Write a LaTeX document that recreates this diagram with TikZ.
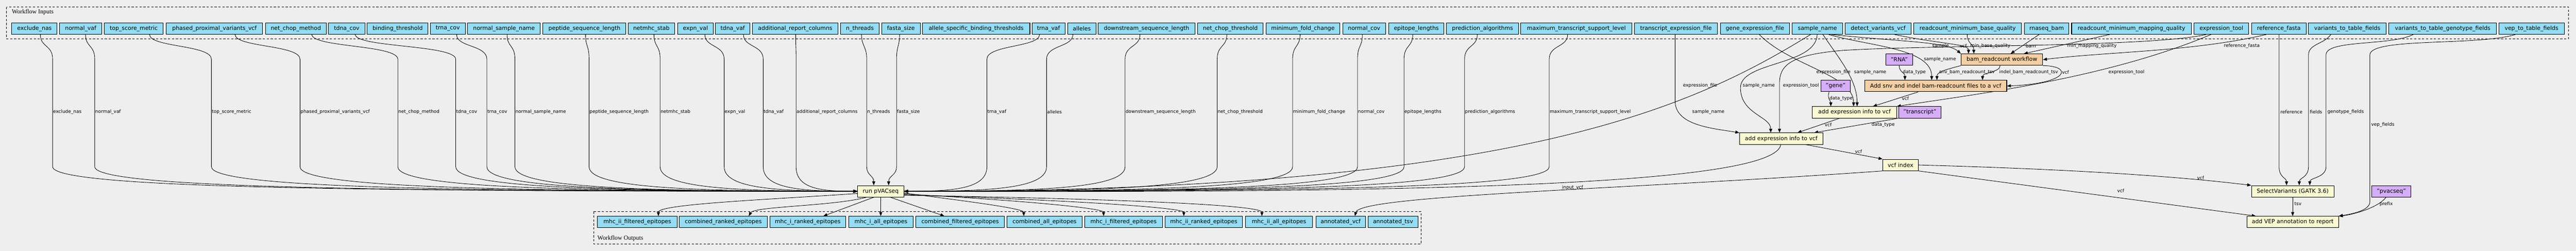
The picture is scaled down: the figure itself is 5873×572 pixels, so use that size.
\documentclass[tikz,border=0pt]{standalone}
\usepackage{fontspec}
\setmainfont{DejaVu Sans}
\newfontfamily\clusterfont{Liberation Serif}
\usetikzlibrary{arrows.meta,calc}
\definecolor{bgc}{HTML}{EEEEEE}
\definecolor{inblue}{HTML}{94DDF4}
\definecolor{stepyellow}{HTML}{FAFAD2}
\definecolor{steporange}{HTML}{F4CFA3}
\definecolor{constpurple}{HTML}{D5ADFB}
\newcommand\nodefs{\fontsize{12.8}{14}\selectfont}
\newcommand\labfs{\fontsize{10.5}{12}\selectfont}
\pgfdeclarelayer{back}
\pgfdeclarelayer{edges}
\pgfsetlayers{back,edges,main}
\tikzset{
  inbox/.style={draw=black, line width=1.2pt, fill=inblue, minimum height=26pt, inner sep=1pt, font=\nodefs},
  stepnode/.style={draw=black, line width=1.2pt, fill=stepyellow, minimum height=26pt, inner sep=1pt, font=\nodefs},
  orangenode/.style={stepnode, fill=steporange},
  constnode/.style={stepnode, fill=constpurple},
  conn/.style={draw=black, line width=1pt, -{Triangle[length=9pt,width=7pt]}},
  elab/.style={font=\labfs, anchor=west, inner sep=1pt},
  cluster/.style={draw=black, line width=1.1pt, dash pattern=on 5pt off 4pt},
  clab/.style={font=\clusterfont\fontsize{14}{16}\selectfont, anchor=west, inner sep=0pt}
}
\begin{document}
\begin{tikzpicture}[x=1pt,y=-1pt]
\begin{pgfonlayer}{back}
\fill[bgc] (0,0) rectangle (5873,572);
\draw[cluster] (15,16) rectangle (5856,89);
\draw[cluster] (1354,482) rectangle (3240,556);
\end{pgfonlayer}
\useasboundingbox (0,0) rectangle (5873,572);
\node[clab] (inlabel) at (27,28) {Workflow Inputs};
\node[clab] (outlabel) at (1362,543) {Workflow Outputs};

% workflow inputs
\foreach \n/\a/\b/\t in {
 in1/27/130/exclude\_nas, in2/136/232/normal\_vaf, in3/238/372/top\_score\_metric,
 in4/379/599/phased\_proximal\_variants\_vcf, in5/605/744/net\_chop\_method,
 in6/749/832/tdna\_cov, in7/837/976/binding\_threshold, in8/981/1061/trna\_cov,
 in9/1066/1232/normal\_sample\_name, in10/1238/1427/peptide\_sequence\_length,
 in11/1432/1538/netmhc\_stab, in12/1545/1626/expn\_val, in13/1631/1710/tdna\_vaf,
 in14/1716/1910/additional\_report\_columns, in15/1916/2005/n\_threads,
 in16/2010/2098/fasta\_size, in17/2103/2348/allele\_specific\_binding\_thresholds,
 in18/2353/2428/trna\_vaf, in19/2434/2499/alleles, in20/2504/2724/downstream\_sequence\_length,
 in21/2730/2880/net\_chop\_threshold, in22/2886/3055/minimum\_fold\_change,
 in23/3061/3159/normal\_cov, in24/3166/3292/epitope\_lengths,
 in25/3298/3462/prediction\_algorithms, in26/3467/3721/maximum\_transcript\_support\_level,
 in27/3726/3916/transcript\_expression\_file, in28/3922/4080/gene\_expression\_file,
 in29/4086/4201/sample\_name, in30/4207/4357/detect\_variants\_vcf,
 in31/4363/4609/readcount\_minimum\_base\_quality, in32/4615/4717/rnaseq\_bam,
 in33/4723/4996/readcount\_minimum\_mapping\_quality, in34/5002/5127/expression\_tool,
 in35/5133/5258/reference\_fasta, in36/5263/5440/variants\_to\_table\_fields,
 in37/5446/5692/variants\_to\_table\_genotype\_fields, in38/5697/5846/vep\_to\_table\_fields}
 {\node[inbox, minimum width={(\b-\a)*1pt}] (\n) at ({(\a+\b)/2},65) {\t};}

% workflow outputs
\foreach \n/\a/\b/\t in {
 o1/1362/1544/mhc\_ii\_filtered\_epitopes, o2/1549/1749/combined\_ranked\_epitopes,
 o3/1755/1928/mhc\_i\_ranked\_epitopes, o4/1935/2082/mhc\_i\_all\_epitopes,
 o5/2088/2290/combined\_filtered\_epitopes, o6/2296/2467/combined\_all\_epitopes,
 o7/2473/2650/mhc\_i\_filtered\_epitopes, o8/2656/2833/mhc\_ii\_ranked\_epitopes,
 o9/2840/2992/mhc\_ii\_all\_epitopes, o10/3000/3113/annotated\_vcf, o11/3119/3233/annotated\_tsv}
 {\node[inbox, minimum width={(\b-\a)*1pt}] (\n) at ({(\a+\b)/2},506) {\t};}

% steps
\node[stepnode, minimum width=105pt] (run) at (2008,436) {run pVACseq};
\node[orangenode, minimum width=186pt] (bam) at (4564,136) {bam\_readcount workflow};
\node[constnode, minimum width=62pt] (rna) at (4330,136) {"RNA"};
\node[orangenode, minimum width=324pt] (addsnv) at (4413,196) {Add snv and indel bam-readcount files to a vcf};
\node[constnode, minimum width=66pt] (gene) at (4185,196) {"gene"};
\node[stepnode, minimum width=192pt] (ae1) at (4228,256) {add expression info to vcf};
\node[constnode, minimum width=97pt] (transcript) at (4377,256) {"transcript"};
\node[stepnode, minimum width=190pt] (ae2) at (4061,316) {add expression info to vcf};
\node[stepnode, minimum width=81pt] (vcfidx) at (4333,376) {vcf index};
\node[stepnode, minimum width=188pt] (selvar) at (5227,436) {SelectVariants (GATK 3.6)};
\node[constnode, minimum width=89pt] (pvacseq) at (5452,436) {"pvacseq"};
\node[stepnode, minimum width=209pt] (vep) at (5227,506) {add VEP annotation to report};

\begin{pgfonlayer}{edges}
% inputs to run pVACseq, west side
\foreach \n/\sx/\lx/\t in {
 in1/92/120/exclude\_nas, in2/195/216/normal\_vaf, in3/341/482/top\_score\_metric,
 in4/536/684/phased\_proximal\_variants\_vcf, in5/711/907/net\_chop\_method,
 in6/810/1039/tdna\_cov, in8/1041/1110/trna\_cov, in9/1156/1174/normal\_sample\_name,
 in10/1335/1343/peptide\_sequence\_length, in11/1491/1505/netmhc\_stab,
 in12/1607/1651/expn\_val, in13/1695/1740/tdna\_vaf, in14/1814/1815/additional\_report\_columns}
 {\draw[conn] (\n.south -| \sx,0) .. controls (\sx,108) and (\lx,102) .. (\lx,135) -- (\lx,380)
      .. controls (\lx,430) and ({\lx+(1956-\lx)*0.4},436) .. (run.west);
  \node[elab] (lab-\n) at (\lx,255) {\t};}
% inputs to run pVACseq, east side
\foreach \n/\sx/\lx/\t in {
 in18/2370/2250/trna\_vaf, in19/2446/2386/alleles, in20/2599/2565/downstream\_sequence\_length,
 in21/2797/2775/net\_chop\_threshold, in22/2964/2947/minimum\_fold\_change,
 in23/3106/3095/normal\_cov, in24/3221/3201/epitope\_lengths,
 in25/3368/3339/prediction\_algorithms, in26/3574/3532/maximum\_transcript\_support\_level}
 {\draw[conn] (\n.south -| \sx,0) .. controls (\sx,108) and (\lx,102) .. (\lx,135) -- (\lx,380)
      .. controls (\lx,430) and ({\lx-(\lx-2061)*0.4},436) .. (run.east);
  \node[elab] (lab-\n) at (\lx,255) {\t};}
% inputs to run pVACseq, top
\draw[conn] (in15.south -| 1964,0) .. controls (1964,105) and (1976,105) .. (1976,135) -- (1976,380)
   .. controls (1976,400) and (1992,400) .. (run.north -| 1992,0);
\node[elab] (lab-in15) at (1976,255) {n\_threads};
\draw[conn] (in16.south -| 2051,0) .. controls (2051,105) and (2044,105) .. (2044,135) -- (2044,380)
   .. controls (2044,400) and (2026,400) .. (run.north -| 2026,0);
\node[elab] (lab-in16) at (2044,255) {fasta\_size};

% sample_name
\draw[conn] (in29.south -| 4128,0) .. controls (3850,250) and (3450,436) .. (run.east);
\node[elab] (l-sn-run) at (3857,255) {sample\_name};
\draw[conn] (ae2.south -| 4060,0) .. controls (4045,425) and (3200,440) .. (run.east);
\node[elab] (l-invcf) at (3560,428) {input\_vcf};
\draw[conn] (in29.south -| 4143,0) .. controls (4140,150) and (3968,140) .. (3968,200)
   .. controls (3968,260) and (4037,265) .. (ae2.north -| 4037,0);
\node[elab] (l-sn-ae2) at (3972,195) {sample\_name};
\draw[conn] (in29.south -| 4156,0) .. controls (4190,130) and (4234,180) .. (ae1.north -| 4234,0);
\node[elab] (l-sn-ae1) at (4226,165) {sample\_name};
\draw[conn] (in29.south -| 4169,0) .. controls (4260,105) and (4404,110) .. (addsnv.north -| 4404,0);
\node[elab] (l-sn-snv) at (4385,135) {sample\_name};
\draw[conn] (in29.south -| 4175,0) .. controls (4330,95) and (4440,95) .. (bam.north west);
\node[elab] (l-sn-bam) at (4404,105) {sample};

% gene / transcript expression files
\draw[conn] (in28.south -| 4011,0) .. controls (4080,150) and (4226,170) .. (ae1.north -| 4226,0);
\node[elab] (l-gef) at (4140,165) {expression\_file};
\draw[conn] (in27.south -| 3819,0) -- (3819,230) .. controls (3819,285) and (3900,292) .. (ae2.north west);
\node[elab] (l-tef) at (3836,195) {expression\_file};

% bam_readcount inputs
\draw[conn] (in30.south -| 4319,0) .. controls (4420,100) and (4488,100) .. (bam.north -| 4488,0);
\node[elab] (l-dvv) at (4467,105) {vcf};
\draw[conn] (in31.south -| 4485,0) .. controls (4485,100) and (4500,100) .. (bam.north -| 4500,0);
\node[elab] (l-mbq) at (4491,105) {min\_base\_quality};
\draw[conn] (in32.south -| 4649,0) -- (bam.north -| 4584,0);
\node[elab] (l-bam) at (4617,105) {bam};
\draw[conn] (in33.south -| 4810,0) -- (bam.north -| 4614,0);
\node[elab] (l-mmq) at (4712,105) {min\_mapping\_quality};
\draw[conn] (in35.south -| 5167,0) .. controls (5000,118) and (4800,118) .. (bam.east);
\node[elab] (l-rf) at (5069,105) {reference\_fasta};

% expression_tool
\draw[conn] (in34.south -| 5041,0) .. controls (4800,180) and (4500,215) .. (ae1.north east);
\node[elab] (l-et1) at (4806,165) {expression\_tool};
\draw[conn] (in34.south -| 5030,0) .. controls (4900,108) and (4400,102) .. (4200,115)
   .. controls (4080,125) and (4057,150) .. (4057,190) -- (ae2.north -| 4057,0);
\node[elab] (l-et2) at (4064,195) {expression\_tool};

% Add snv inputs
\draw[conn] (rna.south) .. controls (4330,165) and (4343,165) .. (addsnv.north -| 4343,0);
\node[elab] (l-rna) at (4337,165) {data\_type};
\draw[conn] (bam.south west) .. controls (4430,160) and (4416,165) .. (addsnv.north -| 4416,0);
\node[elab] (l-snv) at (4420,165) {snv\_bam\_readcount\_tsv};
\draw[conn] (bam.south -| 4560,0) .. controls (4560,165) and (4520,165) .. (addsnv.north -| 4520,0);
\node[elab] (l-indel) at (4557,165) {indel\_bam\_readcount\_tsv};
\draw[conn] (bam.south east) .. controls (4725,150) and (4720,190) .. (addsnv.east);
\node[elab] (l-bvcf) at (4700,165) {vcf};

% add expression 1
\draw[conn] (addsnv.south -| 4373,0) -- (ae1.north -| 4270,0);
\node[elab] (l-snvvcf) at (4335,225) {vcf};
\draw[conn] (gene.south -| 4170,0) .. controls (4165,225) and (4174,230) .. (ae1.north -| 4174,0);
\node[elab] (l-gene) at (4170,225) {data\_type};
% add expression 2
\draw[conn] (ae1.south -| 4194,0) -- (ae2.north -| 4098,0);
\node[elab] (l-ae1vcf) at (4159,285) {vcf};
\draw[conn] (transcript.south west) -- (ae2.north -| 4136,0);
\node[elab] (l-tr) at (4266,285) {data\_type};
% vcf index
\draw[conn] (ae2.south -| 4117,0) -- (vcfidx.north west);
\node[elab] (l-ae2vcf) at (4228,345) {vcf};
\draw[conn] (vcfidx.east) .. controls (4700,385) and (4950,400) .. (selvar.north west);
\node[elab] (l-svvcf) at (5008,405) {vcf};
\draw[conn] (vcfidx.south east) -- (vep.north -| 5143,0);
\node[elab] (l-vepvcf) at (4826,435) {vcf};
\draw[conn] (vcfidx.south west) .. controls (3700,432) and (3100,445) .. (o10.north -| 3089,0);

% SelectVariants inputs
\draw[conn] (in35.south -| 5196,0) -- (5196,380) .. controls (5196,405) and (5213,405) .. (selvar.north -| 5213,0);
\node[elab] (l-ref) at (5198,255) {reference};
\draw[conn] (in36.south -| 5314,0) .. controls (5300,100) and (5263,100) .. (5263,125) -- (5263,380)
   .. controls (5263,405) and (5242,405) .. (selvar.north -| 5242,0);
\node[elab] (l-fields) at (5265,255) {fields};
\draw[conn] (in37.south -| 5502,0) .. controls (5450,105) and (5303,90) .. (5303,125) -- (5303,380)
   .. controls (5303,405) and (5266,405) .. (selvar.north -| 5266,0);
\node[elab] (l-gf) at (5305,255) {genotype\_fields};
% add VEP inputs
\draw[conn] (selvar.south) -- (vep.north);
\node[elab] (l-tsv) at (5230,465) {tsv};
\draw[conn] (in38.south -| 5735,0) .. controls (5650,105) and (5403,85) .. (5403,125) -- (5403,460)
   .. controls (5403,480) and (5360,488) .. (vep.north east);
\node[elab] (l-vf) at (5405,285) {vep\_fields};
\draw[conn] (pvacseq.south -| 5440,0) .. controls (5420,475) and (5360,490) .. (vep.north east);
\node[elab] (l-prefix) at (5424,465) {prefix};

% run pVACseq outputs
\draw[conn] ([yshift=-5pt]run.west) .. controls (1750,455) and (1501,465) .. (o1.north -| 1501,0);
\draw[conn] (run.south -| 1975,0) .. controls (1900,470) and (1720,470) .. (o2.north -| 1707,0);
\draw[conn] (run.south -| 1992,0) -- (o3.north -| 1877,0);
\draw[conn] (run.south -| 2008,0) -- (o4.north -| 2008,0);
\draw[conn] (run.south -| 2030,0) -- (o5.north -| 2153,0);
\draw[conn] ([yshift=-4pt]run.east) .. controls (2200,458) and (2334,475) .. (o6.north -| 2334,0);
\draw[conn] ([yshift=-6pt]run.east) .. controls (2350,458) and (2516,475) .. (o7.north -| 2516,0);
\draw[conn] ([yshift=-8pt]run.east) .. controls (2500,458) and (2699,475) .. (o8.north -| 2699,0);
\draw[conn] ([yshift=-9pt]run.east) .. controls (2650,455) and (2877,470) .. (o9.north -| 2877,0);
\end{pgfonlayer}
\end{tikzpicture}
\end{document}
